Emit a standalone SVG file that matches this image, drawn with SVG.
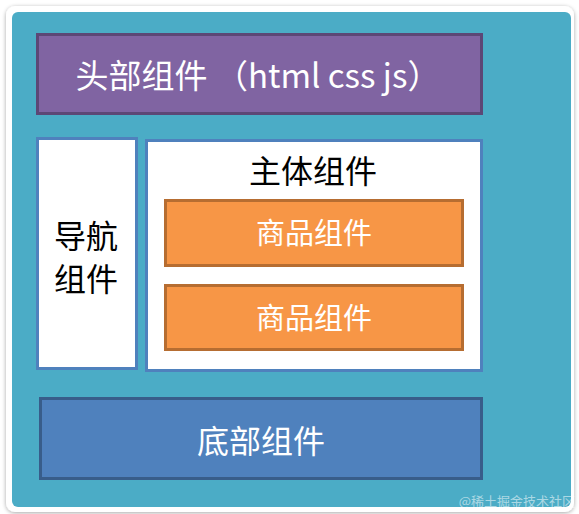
<svg xmlns="http://www.w3.org/2000/svg" width="579" height="514" viewBox="0 0 579 514">
<defs>
<filter id="sh" x="-5%" y="-5%" width="110%" height="110%"><feGaussianBlur in="SourceAlpha" stdDeviation="2"/><feOffset dx="0" dy="1"/><feComponentTransfer><feFuncA type="linear" slope="0.35"/></feComponentTransfer><feMerge><feMergeNode/><feMergeNode in="SourceGraphic"/></feMerge></filter>
</defs>
<style>
.t{font-family:"Noto Sans CJK SC","Microsoft YaHei",sans-serif;font-size:32px;text-anchor:middle}
.w{fill:#ffffff}
.k{fill:#000000}
.box{stroke-width:3}
</style>
<rect x="0" y="0" width="579" height="514" fill="#ffffff"/>
<rect x="6" y="6" width="568" height="506" rx="9" fill="#ffffff" filter="url(#sh)"/>
<rect x="12" y="12" width="559" height="495" rx="6" fill="#4BACC6"/>
<g id="header">
<rect class="box" x="37.5" y="34.5" width="444" height="79" fill="#8064A2" stroke="#5C4776"/>
<text class="t w" x="258" y="88" style="font-size:33px">头部组件 （html css js）</text>
</g>
<g id="nav">
<rect class="box" x="37.5" y="138.5" width="99" height="230" fill="#ffffff" stroke="#4F81BD"/>
<text class="t k" x="86" y="248">导航</text>
<text class="t k" x="86" y="291">组件</text>
</g>
<g id="main">
<rect class="box" x="146.5" y="140.5" width="335" height="230" fill="#ffffff" stroke="#4F81BD"/>
<text class="t k" x="313" y="183">主体组件</text>
</g>
<g id="goods1">
<rect class="box" x="165.5" y="200.5" width="297" height="65" fill="#F79646" stroke="#B66D31"/>
<text class="t w" x="314" y="244" style="font-size:29px">商品组件</text>
</g>
<g id="goods2">
<rect class="box" x="165.5" y="285.5" width="297" height="64" fill="#F79646" stroke="#B66D31"/>
<text class="t w" x="314" y="329" style="font-size:29px">商品组件</text>
</g>
<g id="footer">
<rect class="box" x="40.5" y="398.5" width="441" height="80" fill="#4F81BD" stroke="#385D8A"/>
<text class="t w" x="261" y="453">底部组件</text>
</g>
<g id="connectors"></g>
<text x="575" y="506" style="font-family:'Noto Sans CJK SC',sans-serif;font-size:13px;text-anchor:end;fill:#ffffff;fill-opacity:0.55">@稀土掘金技术社区</text>
</svg>
